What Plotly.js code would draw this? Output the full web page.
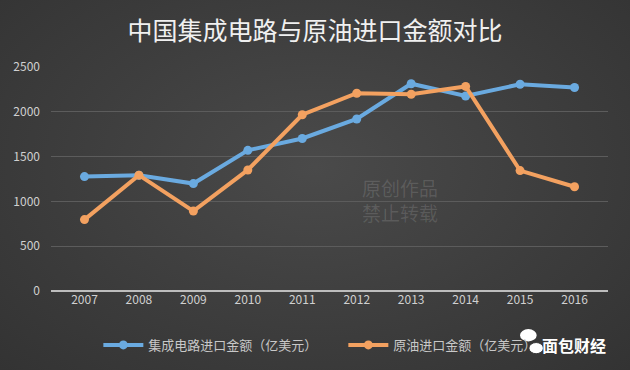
<!DOCTYPE html>
<html>
<head>
<meta charset="utf-8">
<script src="https://cdn.plot.ly/plotly-3.0.1.min.js"></script>
<style>
html,body{margin:0;padding:0;}
body{width:630px;height:370px;background:radial-gradient(ellipse at 50% 45%, #4a4a4a 0%, #3c3c3c 60%, #333333 100%);}
#chart{width:630px;height:370px;}
</style>
</head>
<body>
<div id="chart"></div>
<script>
const years = ['2007','2008','2009','2010','2011','2012','2013','2014','2015','2016'];
const icImports = [1277, 1292, 1199, 1570, 1702, 1920, 2313, 2176, 2307, 2271];
const crudeImports = [797, 1293, 892, 1351, 1967, 2207, 2196, 2283, 1344, 1164];
const seriesNames = ['集成电路进口金额（亿美元）', '原油进口金额（亿美元）'];
const yTicks = [0, 500, 1000, 1500, 2000, 2500];

const font = '"Noto Sans CJK SC", "Noto Sans", sans-serif';

const traces = [
  {x: years, y: icImports, name: seriesNames[0], type: 'scatter', mode: 'lines+markers',
   line: {color: '#6aaae0', width: 4}, marker: {color: '#6aaae0', size: 9}},
  {x: years, y: crudeImports, name: seriesNames[1], type: 'scatter', mode: 'lines+markers',
   line: {color: '#f3a160', width: 4}, marker: {color: '#f3a160', size: 9}}
];

const layout = {
  width: 630, height: 370,
  paper_bgcolor: 'rgba(0,0,0,0)', plot_bgcolor: 'rgba(0,0,0,0)',
  margin: {l: 51, r: 22, t: 67, b: 79, autoexpand: false},
  title: {text: '中国集成电路与原油进口金额对比', x: 0.5, xanchor: 'center', y: 0.915, yanchor: 'middle',
          font: {family: font, size: 25, color: '#f0f0f0'}},
  xaxis: {type: 'category', tickfont: {family: font, size: 12, color: '#d0d0d0'},
          showgrid: false, zeroline: false, showline: false, ticks: '', ticklen: 0},
  yaxis: {range: [0, 2500], tickvals: yTicks, ticktext: yTicks.map(String),
          tickfont: {family: font, size: 12, color: '#d0d0d0'},
          gridcolor: '#5c5c5c', gridwidth: 1, zeroline: true, zerolinecolor: '#bdbdbd', zerolinewidth: 2,
          showline: false, ticks: '', ticklabelstandoff: 10, fixedrange: true},
  showlegend: true,
  legend: {orientation: 'h', x: 0.085, xanchor: 'left', y: -0.241, yanchor: 'middle',
           font: {family: font, size: 13, color: '#c8c8c8'}, itemwidth: 40,
           entrywidth: 190, entrywidthmode: 'pixels', bgcolor: 'rgba(0,0,0,0)'},
  shapes: [
    {type: 'circle', xref: 'paper', yref: 'paper', x0: 0.842, x1: 0.872, y0: -0.225, y1: -0.17,
     fillcolor: '#ffffff', line: {width: 0}},
    {type: 'circle', xref: 'paper', yref: 'paper', x0: 0.858, x1: 0.884, y0: -0.28, y1: -0.23,
     fillcolor: '#ffffff', line: {color: '#3a3a3a', width: 1}}
  ],
  annotations: [
    {text: '原创作品', xref: 'paper', yref: 'paper', x: 0.627, y: 0.46, showarrow: false,
     font: {family: font, size: 19, color: 'rgba(255,255,255,0.13)'}, xanchor: 'center', yanchor: 'middle'},
    {text: '禁止转载', xref: 'paper', yref: 'paper', x: 0.627, y: 0.35, showarrow: false,
     font: {family: font, size: 19, color: 'rgba(255,255,255,0.13)'}, xanchor: 'center', yanchor: 'middle'},
    {text: '<b>面包财经</b>', xref: 'paper', yref: 'paper', x: 1.0, y: -0.241, showarrow: false,
     font: {family: font, size: 16, color: '#ffffff'}, xanchor: 'right', yanchor: 'middle'}
  ]
};

Plotly.newPlot('chart', traces, layout, {displayModeBar: false, staticPlot: true});
</script>
</body>
</html>
